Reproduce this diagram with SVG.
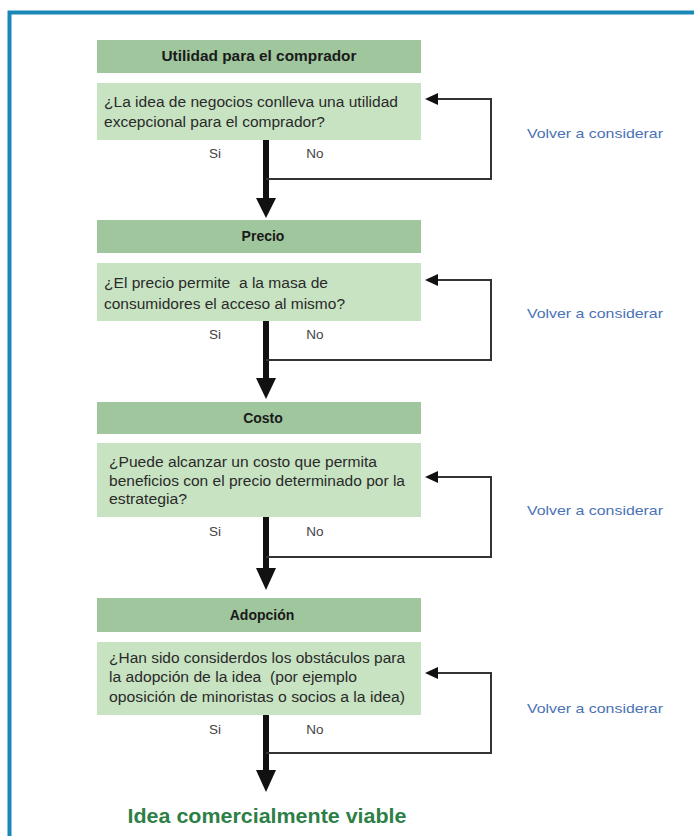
<svg xmlns="http://www.w3.org/2000/svg" width="694" height="836" viewBox="0 0 694 836">
<style>
.hdr{fill:#9fc69d}
.box{fill:#c8e3c2}
.ht{font-family:"Liberation Sans",Arial,sans-serif;font-weight:bold;font-size:14px;fill:#1a1a1a;text-anchor:middle}
.qt{font-family:"Liberation Sans",Arial,sans-serif;font-size:14px;fill:#2a2a2a;white-space:pre}
.lab{font-family:"Liberation Sans",Arial,sans-serif;font-size:13.5px;fill:#444;text-anchor:middle}
.vc{font-family:"Liberation Sans",Arial,sans-serif;font-size:13.5px;fill:#4a72b5}
.main{stroke:#111;stroke-width:6;fill:none}
.fb{stroke:#333;stroke-width:2;fill:none}
.head{fill:#111}
</style>
<rect x="9.5" y="12.5" width="700" height="840" fill="none" stroke="#1a87b9" stroke-width="4"/>

<g id="n1">
<rect class="hdr" x="97" y="40" width="324" height="33"/>
<text class="ht" x="259" y="61" textLength="195" lengthAdjust="spacingAndGlyphs">Utilidad para el comprador</text>
<rect class="box" x="97" y="83" width="324" height="57"/>
<text class="qt" x="104" y="107" textLength="294" lengthAdjust="spacingAndGlyphs">¿La idea de negocios conlleva una utilidad</text>
<text class="qt" x="104" y="127" textLength="221" lengthAdjust="spacingAndGlyphs">excepcional para el comprador?</text>
</g>
<g id="n2">
<rect class="hdr" x="97" y="220" width="324" height="33"/>
<text class="ht" x="263" y="241">Precio</text>
<rect class="box" x="97" y="263" width="324" height="58"/>
<text class="qt" x="104" y="288" textLength="224" lengthAdjust="spacingAndGlyphs">¿El precio permite  a la masa de</text>
<text class="qt" x="104" y="309" textLength="241" lengthAdjust="spacingAndGlyphs">consumidores el acceso al mismo?</text>
</g>
<g id="n3">
<rect class="hdr" x="97" y="402" width="324" height="32"/>
<text class="ht" x="263" y="423">Costo</text>
<rect class="box" x="97" y="443" width="324" height="74"/>
<text class="qt" x="109" y="467" textLength="268" lengthAdjust="spacingAndGlyphs">¿Puede alcanzar un costo que permita</text>
<text class="qt" x="109" y="486" textLength="296" lengthAdjust="spacingAndGlyphs">beneficios con el precio determinado por la</text>
<text class="qt" x="109" y="504" textLength="78" lengthAdjust="spacingAndGlyphs">estrategia?</text>
</g>
<g id="n4">
<rect class="hdr" x="97" y="598" width="324" height="34"/>
<text class="ht" x="262" y="620">Adopción</text>
<rect class="box" x="97" y="642" width="324" height="73"/>
<text class="qt" x="109" y="663" textLength="296" lengthAdjust="spacingAndGlyphs">¿Han sido considerdos los obstáculos para</text>
<text class="qt" x="109" y="682" textLength="248" lengthAdjust="spacingAndGlyphs">la adopción de la idea  (por ejemplo</text>
<text class="qt" x="109" y="702" textLength="296" lengthAdjust="spacingAndGlyphs">oposición de minoristas o socios a la idea)</text>
</g>
<g id="end">
<text x="267" y="823" font-family="'Liberation Sans',Arial,sans-serif" font-weight="bold" font-size="20px" fill="#2e7f47" text-anchor="middle" textLength="279" lengthAdjust="spacingAndGlyphs">Idea comercialmente viable</text>
</g>

<g id="connectors">
<path class="main" d="M266 140V199"/>
<polygon class="head" points="256,198 276,198 266,218"/>
<path class="fb" d="M266 179H491V99H436"/>
<polygon class="head" points="425,99 438,93 438,105"/>

<path class="main" d="M266 321V379"/>
<polygon class="head" points="256,378 276,378 266,399"/>
<path class="fb" d="M266 360H491V280H436"/>
<polygon class="head" points="425,280 438,274 438,286"/>

<path class="main" d="M266 517V569"/>
<polygon class="head" points="256,568 276,568 266,590"/>
<path class="fb" d="M266 557H491V477H436"/>
<polygon class="head" points="425,477 438,471 438,483"/>

<path class="main" d="M266 715V771"/>
<polygon class="head" points="256,770 276,770 266,792"/>
<path class="fb" d="M266 753H491V673H436"/>
<polygon class="head" points="425,673 438,667 438,679"/>
</g>

<g id="labels">
<text class="lab" x="215" y="158">Si</text>
<text class="lab" x="315" y="158">No</text>
<text class="lab" x="215" y="339">Si</text>
<text class="lab" x="315" y="339">No</text>
<text class="lab" x="215" y="536">Si</text>
<text class="lab" x="315" y="536">No</text>
<text class="lab" x="215" y="734">Si</text>
<text class="lab" x="315" y="734">No</text>
<text class="vc" x="527" y="138" textLength="136" lengthAdjust="spacingAndGlyphs">Volver a considerar</text>
<text class="vc" x="527" y="318" textLength="136" lengthAdjust="spacingAndGlyphs">Volver a considerar</text>
<text class="vc" x="527" y="515" textLength="136" lengthAdjust="spacingAndGlyphs">Volver a considerar</text>
<text class="vc" x="527" y="713" textLength="136" lengthAdjust="spacingAndGlyphs">Volver a considerar</text>
</g>
</svg>
